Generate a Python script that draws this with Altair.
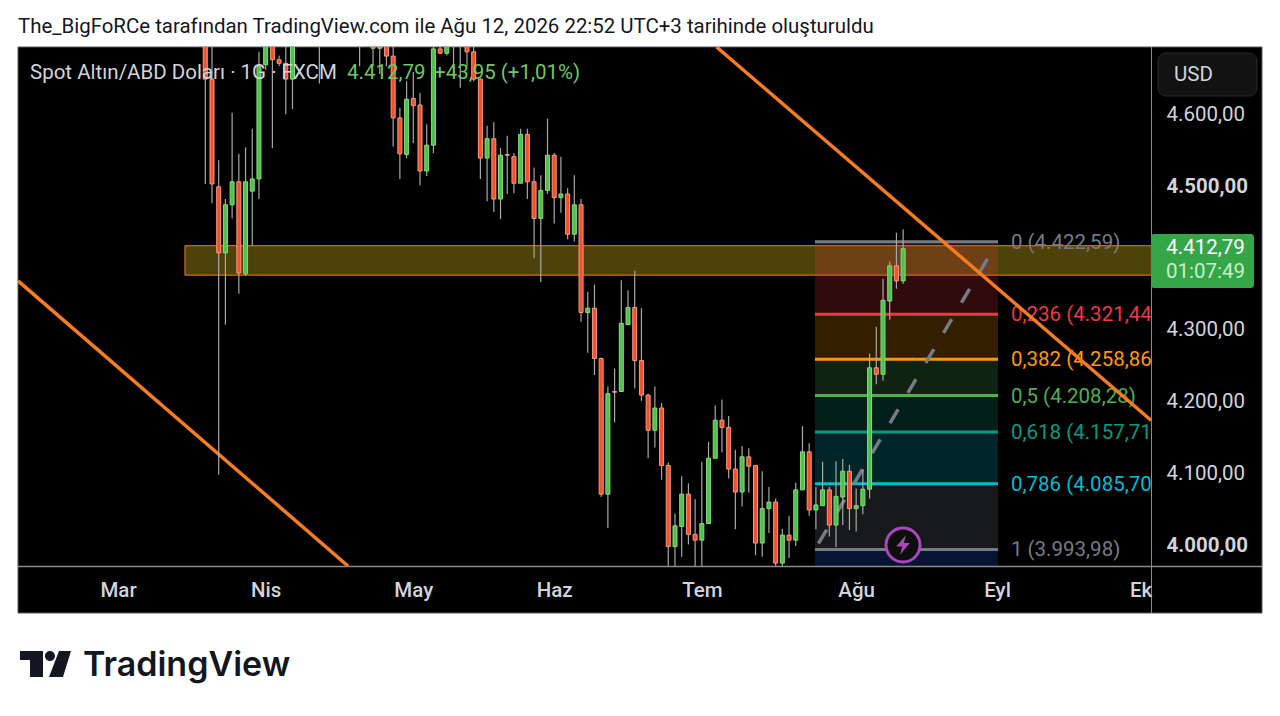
import altair as alt
import pandas as pd

TITLE = "The_BigFoRCe tarafından TradingView.com ile Ağu 12, 2026 22:52 UTC+3 tarihinde oluşturuldu"
SYMBOL = "Spot Altın/ABD Doları · 1G · FXCM"
QUOTE_PRICE = "4.412,79"
QUOTE_CHANGE = "+43,95 (+1,01%)"
BRAND = "TradingView"

opens = [4717,4649,4499,4407,4474,4506,4378,4493,4510,4669,
         4717,4676,4671,4649,4717,4736,4726,4741,4716,4726,
         4736,4721,4731,4713,4721,4698,4692,4698,4681,4595,
         4544,4622,4613,4521,4557,4691,4685,4711,4701,4703,
         4687,4649,4539,4566,4482,4544,4541,4504,4572,4506,
         4455,4494,4543,4484,4489,4433,4474,4324,4330,4260,
         4071,4214,4214,4307,4331,4257,4209,4160,4191,4111,
         3998,4026,4071,4015,4007,4030,4121,4174,4164,4106,
         4074,4123,4111,4003,4051,4060,3975,4014,4007,4077,
         4130,4049,4055,4077,4028,4067,4103,4051,4055,4078,
         4247,4238,4340,4389,4368]
closes = [4649,4503,4407,4474,4506,4379,4506,4510,4667,4717,
          4676,4671,4649,4717,4736,4726,4741,4716,4726,4736,
          4721,4731,4713,4721,4709,4692,4698,4681,4595,4545,
          4621,4612,4521,4557,4691,4685,4703,4701,4713,4687,
          4649,4539,4566,4482,4543,4543,4504,4572,4506,4455,
          4494,4543,4484,4489,4433,4474,4324,4330,4260,4071,
          4211,4213,4309,4331,4257,4209,4160,4191,4111,3998,
          4027,4071,4015,4007,4030,4121,4174,4164,4106,4074,
          4123,4110,4003,4051,4060,3975,4014,4007,4077,4130,
          4049,4056,4077,4028,4068,4103,4051,4055,4078,4247,
          4238,4341,4389,4368,4412.79]
highs = [4745,4703,4536,4482,4602,4545,4554,4580,4687,4731,
         4731,4682,4695,4731,4746,4751,4756,4761,4746,4751,
         4746,4746,4746,4736,4731,4701,4703,4703,4695,4609,
         4646,4659,4630,4586,4703,4711,4716,4726,4721,4716,
         4701,4650,4584,4589,4553,4570,4546,4580,4580,4526,
         4515,4594,4546,4541,4497,4515,4482,4353,4363,4261,
         4221,4246,4369,4355,4382,4330,4211,4221,4198,4115,
         4044,4096,4086,4064,4116,4144,4195,4203,4180,4133,
         4138,4135,4111,4103,4081,4065,4023,4041,4087,4166,
         4142,4081,4116,4081,4117,4120,4112,4079,4106,4267,
         4304,4371,4395,4435,4440]
lows = [4503,4476,4098,4307,4455,4350,4375,4417,4482,4662,
        4553,4667,4600,4607,4701,4706,4703,4643,4701,4706,
        4701,4701,4699,4667,4697,4667,4656,4667,4555,4510,
        4539,4560,4501,4514,4546,4684,4682,4653,4637,4667,
        4646,4510,4479,4464,4454,4489,4490,4504,4482,4400,
        4366,4489,4448,4463,4426,4423,4311,4268,4237,4067,
        4024,4171,4214,4307,4218,4201,4121,4136,4091,3965,
        3965,3984,4001,3965,3965,4030,4121,4129,4093,4022,
        4054,4073,3986,3984,4017,3970,3965,3982,3999,4077,
        4041,4022,4055,4012,3997,4028,4021,4019,4043,4065,
        4224,4229,4314,4357,4364]

fib_levels = [4422.59, 4321.44, 4258.86, 4208.28, 4157.71, 4085.70, 3993.98]
fib_next = [4321.44, 4258.86, 4208.28, 4157.71, 4085.70, 3993.98, 3729.0]
fib_text = ["0 (4.422,59)", "0,236 (4.321,44)", "0,382 (4.258,86)", "0,5 (4.208,28)", "0,618 (4.157,71)", "0,786 (4.085,70)", "1 (3.993,98)"]
fib_colors = ["#787b86", "#f23645", "#ff9800", "#4caf50", "#089981", "#00bcd4", "#787b86"]
band_colors = ["#f23645", "#ff9800", "#4caf50", "#089981", "#00bcd4", "#787b86", "#2962ff"]
fib_start, fib_end = 90.86, 118.14

zone_top, zone_bottom, zone_start, zone_end = 4417, 4376, -3.03, 141

trend_a_x, trend_a_y = [76.2, 140.94], [4693.7, 4174]
trend_b_x, trend_b_y = [-27.9, 21.27], [4368, 3971]
dash_x, dash_y = [90.86, 116.65], [3994, 4400]

month_ticks = [-13, 9, 31, 52, 74, 97, 118, 139.4]
month_names = ["Mar", "Nis", "May", "Haz", "Tem", "Ağu", "Eyl", "Ek"]
price_ticks = [4000, 4100, 4200, 4300, 4500, 4600]

XMIN, XMAX, YMIN, YMAX = -27.91, 140.94, 3971, 4693.7
W, H = 1133, 519
FONT = "Roboto"
FS = 20.5
INK = "#d1d4dc"

month_map = "{" + ",".join(f"'{t}':'{n}'" for t, n in zip(month_ticks, month_names)) + "}"
x_axis = alt.Axis(values=month_ticks, labelExpr=f"{month_map}[datum.value]", title=None, grid=False,
                  domain=False, ticks=False, labelFont=FONT, labelFontSize=FS, labelFontWeight=500,
                  labelColor=INK, labelPadding=14, labelOverlap=False, labelFlush=False, zindex=1)
y_axis = alt.Axis(values=price_ticks, orient="right", title=None, grid=False, domain=False, ticks=False,
                  labelExpr="slice(format(datum.value,'d'),0,1)+'.'+slice(format(datum.value,'d'),1)+',00'",
                  labelFont=FONT, labelFontSize=FS, labelColor=INK, labelPadding=15, zindex=1,
                  labelFontWeight={"condition": {"test": "datum.value % 500 === 0", "value": "bold"}, "value": "normal"})

xs = alt.Scale(domain=[XMIN, XMAX], nice=False, zero=False, padding=0)
ys = alt.Scale(domain=[YMIN, YMAX], nice=False, zero=False, padding=0)
X = lambda f: alt.X(f, type="quantitative", scale=xs, axis=x_axis)
Y = lambda f: alt.Y(f, type="quantitative", scale=ys, axis=y_axis)

candles = pd.DataFrame({"i": list(range(len(opens))), "open": opens, "close": closes, "high": highs, "low": lows})
candles["dir"] = ["up" if c >= o else "down" for o, c in zip(opens, closes)]
fib = pd.DataFrame({"level": fib_levels, "next": fib_next, "label": fib_text, "line": fib_colors, "band": band_colors,
                    "a": fib_start, "b": fib_end, "tx": 120.07})
zone = pd.DataFrame([{"a": zone_start, "b": zone_end, "t": zone_top, "u": zone_bottom}])
one = pd.DataFrame({"k": [0]})


def note(text, x, y, size, color, align="left", weight=400, font=FONT):
    return alt.Chart(pd.DataFrame({"t": [text]})).mark_text(
        align=align, baseline="middle", font=font, fontSize=size, fontWeight=weight, color=color, clip=False
    ).encode(x=alt.value(x - 18), y=alt.value(y - 46), text="t:N")


def box(x0, x1, y0, y1, fill, stroke=None, radius=0, sw=1):
    kw = dict(color=fill, cornerRadius=radius, clip=False)
    if stroke:
        kw.update(stroke=stroke, strokeWidth=sw)
    return alt.Chart(one).mark_rect(**kw).encode(
        x=alt.value(x0 - 18), x2=alt.value(x1 - 18), y=alt.value(y0 - 47), y2=alt.value(y1 - 47))


LOGO = ("M-1,-.51 L-.098,-.51 L-.098,.51 L-.608,.51 L-.608,-.157 L-1,-.157 Z "
        "M-.02,-.314 A.196,.196 0 1 0 .372,-.314 A.196,.196 0 1 0 -.02,-.314 Z "
        "M.53,-.51 L1,-.51 L.686,.51 L.137,.51 Z")
BOLT = "M.3,-1 L-.7,.15 L-.08,.15 L-.3,1 L.7,-.2 L.08,-.2 Z"


def symbol(shape, x, y, size, fill, stroke=None, sw=0):
    return alt.Chart(one).mark_point(shape=shape, size=size, filled=True, fill=fill, opacity=1,
                                     stroke=stroke if stroke else fill, strokeWidth=sw, clip=False).encode(
        x=alt.value(x - 18), y=alt.value(y - 47))


panel = box(18, 1262, 47, 613, "#000000", stroke="#5a5a5a")

zone_layer = alt.Chart(zone).mark_rect(color="#ffde21", fillOpacity=0.3, stroke="#f57c1f", strokeWidth=1, clip=True).encode(
    x=X("a"), x2="b", y=Y("t"), y2="u")
bands = alt.Chart(fib).mark_rect(fillOpacity=0.2, clip=True).encode(
    x=X("a"), x2="b", y=Y("level"), y2="next",
    color=alt.Color("band:N", scale=None, legend=None))
lines = alt.Chart(fib).mark_rule(strokeWidth=3, clip=True).encode(
    x=X("a"), x2="b", y=Y("level"),
    color=alt.Color("line:N", scale=None, legend=None))
labels = alt.Chart(fib).mark_text(align="left", baseline="middle", font=FONT, fontSize=FS, clip=True, dy=1).encode(
    x=X("tx"), y=Y("level"), text="label:N",
    color=alt.Color("line:N", scale=None, legend=None))
dash = alt.Chart(pd.DataFrame({"x": dash_x, "y": dash_y})).mark_line(
    color="#787b86", strokeWidth=3.5, strokeDash=[16, 19], strokeDashOffset=28, clip=True).encode(x=X("x"), y=Y("y"))
trend_a = alt.Chart(pd.DataFrame({"x": trend_a_x, "y": trend_a_y})).mark_line(
    color="#f57c1f", strokeWidth=3.5, clip=True).encode(x=X("x"), y=Y("y"))
trend_b = alt.Chart(pd.DataFrame({"x": trend_b_x, "y": trend_b_y})).mark_line(
    color="#f57c1f", strokeWidth=3.5, clip=True).encode(x=X("x"), y=Y("y"))
wicks = alt.Chart(candles).mark_rule(color="#a8a8a8", strokeWidth=1.2, clip=True).encode(
    x=X("i"), y=Y("low"), y2="high")
bodies = alt.Chart(candles).mark_bar(size=4, strokeWidth=1, clip=True).encode(
    x=X("i"), y=Y("open"), y2="close",
    color=alt.Color("dir:N", scale=alt.Scale(domain=["up", "down"], range=["#4fc14f", "#f4502c"]), legend=None),
    stroke=alt.Stroke("dir:N", scale=alt.Scale(domain=["up", "down"], range=["#86dc78", "#f79a82"]), legend=None))

h_rule = alt.Chart(one).mark_rule(color="#8a8a8a", strokeWidth=1.5, clip=False).encode(
    x=alt.value(0), x2=alt.value(1244), y=alt.value(519.5))
v_rule = alt.Chart(one).mark_rule(color="#8a8a8a", strokeWidth=1, clip=False).encode(
    x=alt.value(1133.5), y=alt.value(0), y2=alt.value(566))

chart = alt.layer(
    panel, zone_layer, bands, lines, dash, labels, trend_a, trend_b, wicks, bodies,
    symbol("circle", 903, 545, 1156, "#0d0d0d", stroke="#ab47bc", sw=3),
    symbol(BOLT, 903, 545, 380, "#ab47bc"),
    h_rule, v_rule,
    note(SYMBOL, 30, 72, FS, INK),
    note(QUOTE_PRICE, 347, 72, FS, "#6cc862"),
    note(QUOTE_CHANGE, 434, 72, FS, "#6cc862"),
    box(1158, 1257, 53, 96, "#121212", stroke="#2b2b2b", radius=8),
    note("USD", 1174, 74, FS, INK),
    box(1151, 1254, 234, 288, "#35a648", radius=3),
    note("4.412,79", 1205.5, 247, FS, "#ffffff", align="center"),
    note("01:07:49", 1205.5, 271, FS, "#c9eecb", align="center"),
    note(TITLE, 18, 26, 20.43, "#131722"),
    symbol(LOGO, 45.5, 664, 2601, "#131722"),
    note(BRAND, 83, 665, 34, "#131722", weight=600, font="Inter"),
).properties(
    width=W, height=H, background="#ffffff",
    autosize=alt.AutoSizeParams(type="none"),
    padding={"left": 10, "top": 39, "right": 120, "bottom": 130},
).configure_view(stroke=None)

chart.save("out.html", embed_options={"renderer": "svg", "actions": False})
